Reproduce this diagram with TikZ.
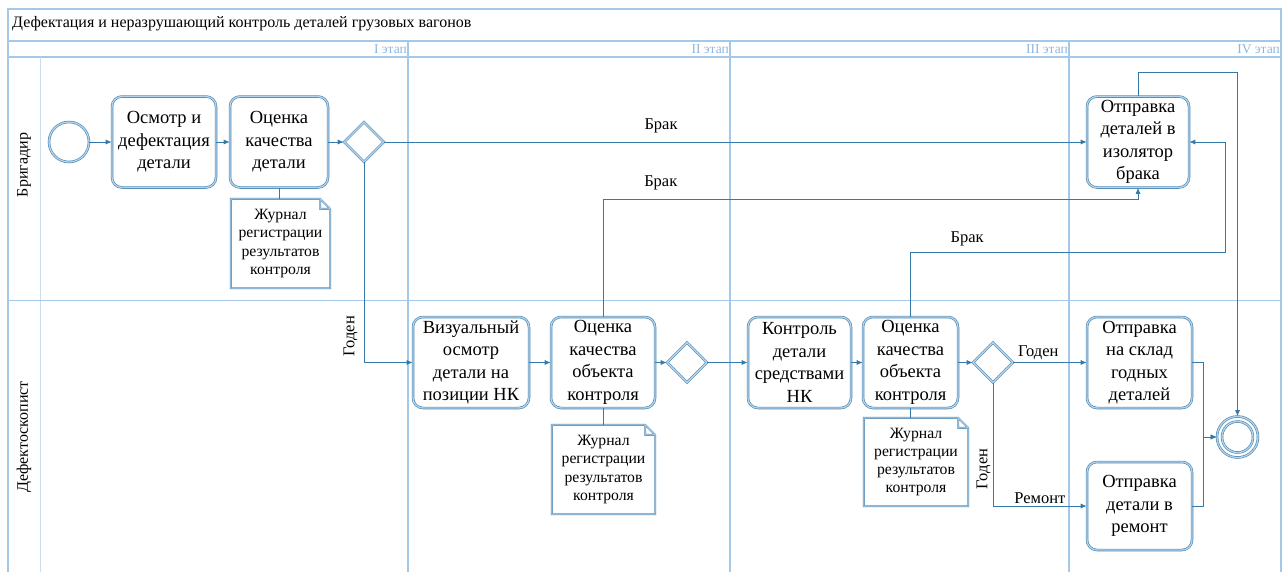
\documentclass[tikz,border=0pt]{standalone}
\usepackage{fontspec}
\setmainfont{Liberation Serif}
\usetikzlibrary{positioning,arrows.meta,shapes.geometric,calc}

\definecolor{poolblue}{HTML}{A6C8E8}
\definecolor{phasetext}{HTML}{8EB5DE}
\definecolor{rimblue}{HTML}{4A86B0}
\definecolor{rimfill}{HTML}{B4D2EA}
\definecolor{flowblue}{HTML}{3479A8}

\tikzset{
  rim/.style={draw=rimblue, line width=0.6pt, double=rimfill, double distance=1.3pt},
  task/.style={rim, rounded corners=10pt, minimum width=102pt, minimum height=91pt,
    inner sep=0pt, align=center, font=\fontsize{18.5}{22.5}\selectfont},
  gateway/.style={rim, diamond, minimum width=40pt, minimum height=40pt, inner sep=0pt},
  event/.style={rim, circle, minimum size=40pt, inner sep=0pt},
  journal/.style={minimum width=100pt, minimum height=89pt, inner sep=0pt, align=center,
    font=\fontsize{15.7}{18.3}\selectfont},
  flow/.style={draw=flowblue, line width=0.8pt, -{Latex[length=6pt,width=5pt]}},
  assoc/.style={draw=flowblue, line width=0.8pt},
  lbl/.style={font=\fontsize{16.5}{19}\selectfont, inner sep=2pt},
  pool/.style={draw=poolblue, line width=1.4pt},
  phase/.style={draw=poolblue, line width=2.6pt},
}

\begin{document}
\begin{tikzpicture}[x=1pt, y=-1pt]
    \useasboundingbox (0,0) rectangle (1283,571);

    % Pool, title band and phase header
    \draw[pool] (8,9) rectangle (1281,580);
    \node[anchor=west, font=\fontsize{16}{19}\selectfont, inner sep=0pt] (title) at (12,24) {Дефектация и неразрушающий контроль деталей грузовых вагонов};
    \foreach \xl/\xr/\nm in {8/408/I, 408/730/II, 730/1069/III, 1069/1281/IV}{
        \draw[pool] (\xl,41) rectangle (\xr,57);
        \node[anchor=east, text=phasetext, font=\fontsize{13.5}{16}\selectfont, inner sep=1pt] (phase\nm) at (\xr,49) {\nm\ этап};
    }
    \foreach \x in {408,730,1069}
        \draw[phase] (\x,57) -- (\x,580);
    \draw[draw=poolblue!60, line width=0.6pt] (40,57) -- (40,580);
    \draw[pool, line width=1pt] (8,300) -- (1281,300);

    % Lanes
    \node[rotate=90, font=\fontsize{16}{19}\selectfont] (laneA) at (24,165) {Бригадир};
    \node[rotate=90, font=\fontsize{16}{19}\selectfont] (laneB) at (24,437) {Дефектоскопист};

    % Lane 1: brigadier
    \node[event] (start) at (69,142) {};
    \node[task, minimum width=104pt] (inspect) at (164,142) {Осмотр и\\дефектация\\детали};
    \node[task, minimum width=98pt] (assess) at (279,142) {Оценка\\качества\\детали};
    \node[journal, minimum width=99pt] (journalA) at (280.5,243.5) {Журнал\\регистрации\\результатов\\контроля};
    \node[gateway] (gwA) at (364,142) {};
    \node[task] (reject) at (1138,142) {Отправка\\деталей в\\изолятор\\брака};

    % Lane 2: flaw detector operator
    \node[task, minimum width=116pt] (visual) at (471,362.5) {Визуальный\\осмотр\\детали на\\позиции НК};
    \node[task, minimum width=104pt] (assessB) at (603,362.5) {Оценка\\качества\\объекта\\контроля};
    \node[journal, minimum width=103pt] (journalB) at (603.5,469.5) {Журнал\\регистрации\\результатов\\контроля};
    \node[gateway] (gwB) at (687,362.5) {};
    \node[task, minimum width=103pt] (ndt) at (799.5,362.5) {Контроль\\детали\\средствами\\НК};
    \node[task, minimum width=95pt] (assessC) at (910.5,362.5) {Оценка\\качества\\объекта\\контроля};
    \node[journal, minimum width=104pt, minimum height=88pt] (journalC) at (916,462) {Журнал\\регистрации\\результатов\\контроля};
    \node[gateway] (gwC) at (993,362.5) {};
    \node[task, minimum width=105pt] (store) at (1139.5,362.5) {Отправка\\на склад\\годных\\деталей};
    \node[task, minimum width=105pt, minimum height=88pt] (repair) at (1139.5,506) {Отправка\\детали в\\ремонт};
    \node[event, minimum size=41pt] (finish) at (1237.5,437) {};
    \draw[rim] (finish.center) circle (15.5pt);

    % Data objects with folded corner
    \foreach \j in {journalA,journalB,journalC}
        \draw[rim, line width=0.5pt, double distance=0.9pt]
            (\j.south west) -- (\j.north west) -- ([xshift=-10pt]\j.north east)
            -- ([yshift=-10pt]\j.north east) -- (\j.south east) -- cycle
            ([xshift=-10pt]\j.north east) |- ([yshift=-10pt]\j.north east);

    % Associations
    \draw[assoc] (assess.south) -- (assess.south |- journalA.north);
    \draw[assoc] (assessB.south) -- (assessB.south |- journalB.north);
    \draw[assoc] (assessC.south) -- (assessC.south |- journalC.north);

    % Sequence flows
    \draw[flow] (start) -- (inspect);
    \draw[flow] (inspect) -- (assess);
    \draw[flow] (assess) -- (gwA);
    \draw[flow] (gwA) -- node[lbl, pos=0.394, above=7pt] {Брак} (reject);
    \draw[flow] (gwA.south) |- node[lbl, pos=0.434, rotate=90, anchor=south, inner sep=6pt] {Годен} (visual.west);
    \draw[flow] (visual) -- (assessB);
    \draw[flow] (assessB) -- (gwB);
    \draw[flow] (assessB.north) -- (assessB.north |- 0,199) -| node[lbl, pos=0.054, above=7pt] {Брак} (reject.south);
    \draw[flow] (gwB) -- (ndt);
    \draw[flow] (ndt) -- (assessC);
    \draw[flow] (assessC) -- (gwC);
    \draw[flow] (assessC.north) |- (1225,252) node[lbl, pos=0.59, above=4pt] {Брак} |- (reject.east);
    \draw[flow] (gwC) -- node[lbl, pos=0.34, above] {Годен} (store);
    \draw[flow] (gwC.south) |- node[lbl, pos=0.35, rotate=90, anchor=south] {Годен} node[lbl, pos=0.75, above] {Ремонт} (repair.west);
    \draw[flow] (reject.north) -- (reject.north |- 0,72) -| (finish.north);
    \draw[flow] (store.east) -- ++(11,0) |- (finish.west);
    \draw[flow] (repair.east) -- ++(11,0) |- (finish.west);

\end{tikzpicture}
\end{document}
